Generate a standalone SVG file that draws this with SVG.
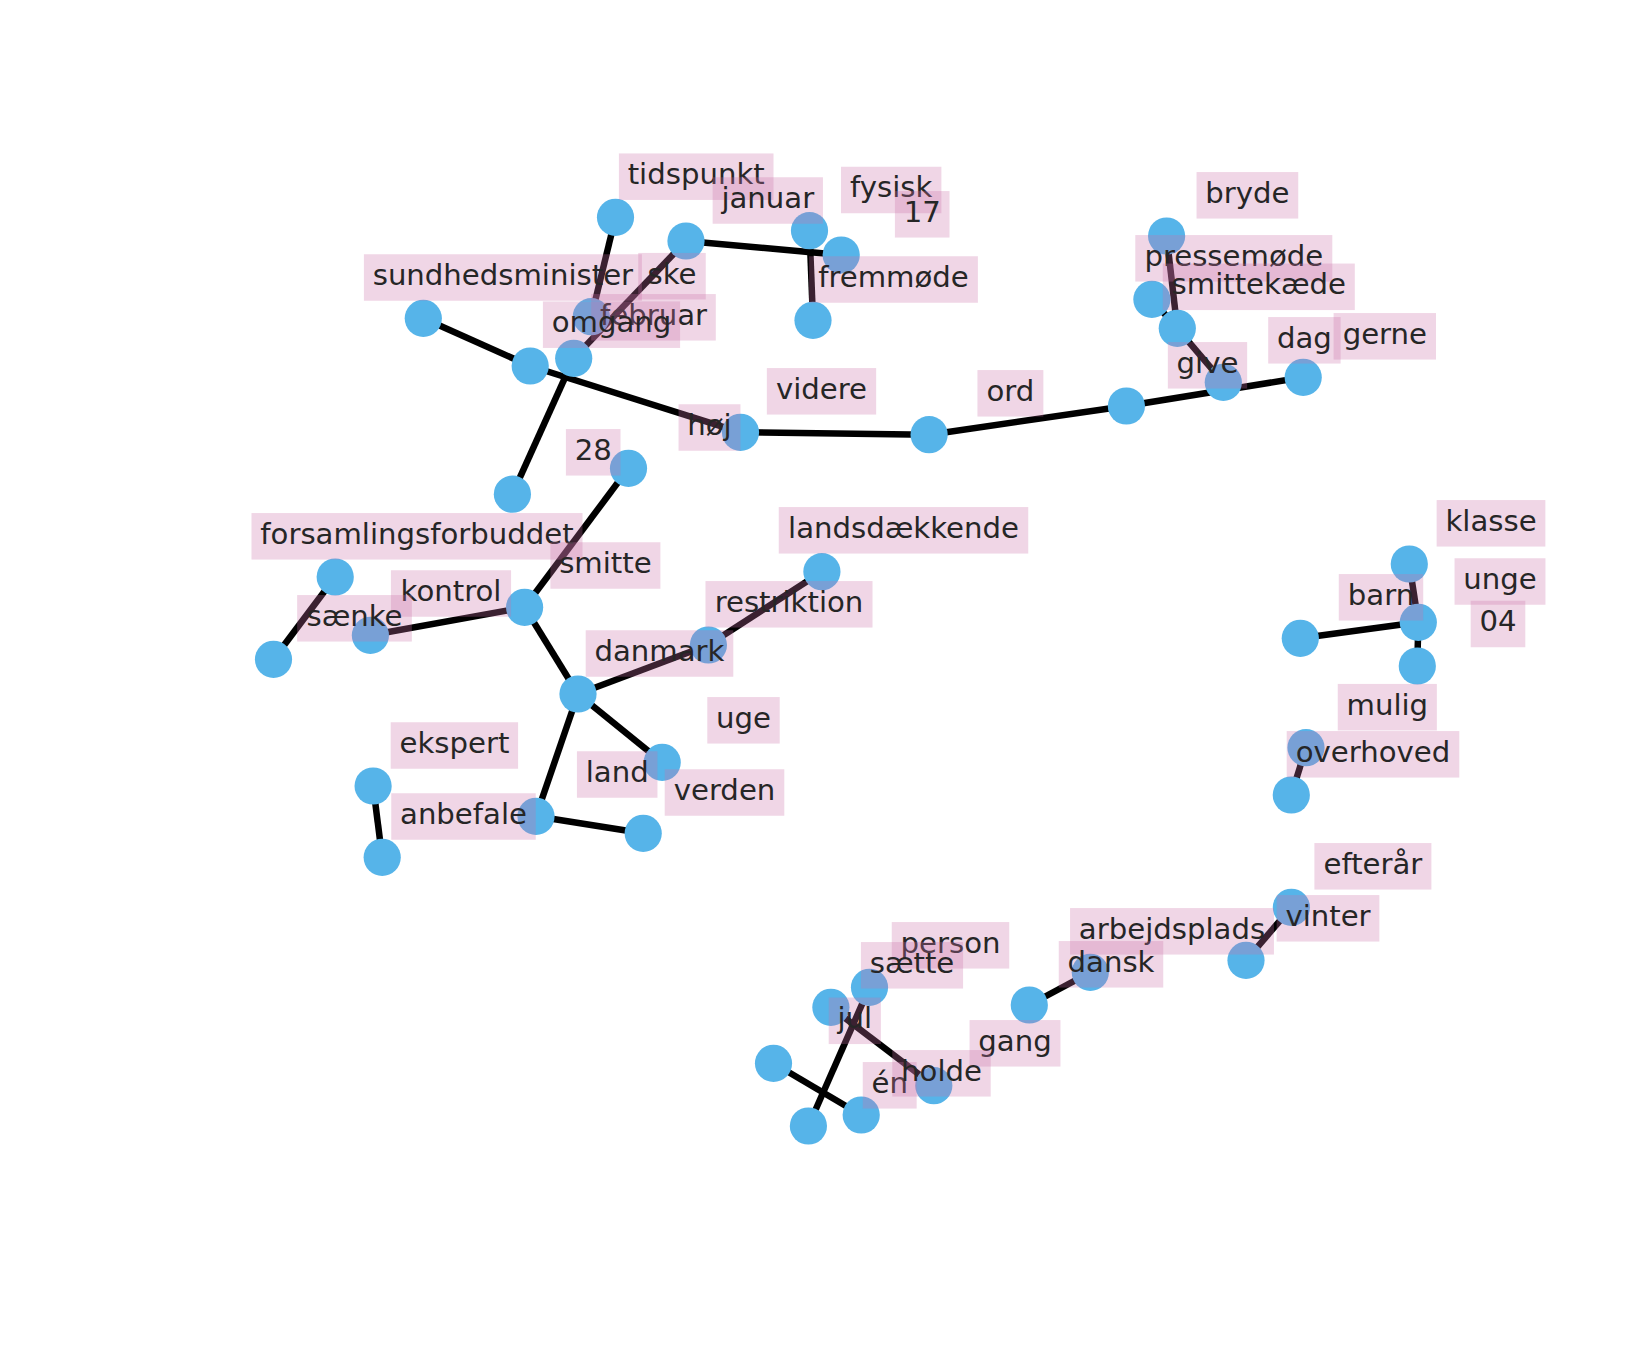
<svg xmlns="http://www.w3.org/2000/svg" width="1650" height="1350" viewBox="0 0 1650 1350">
<style>
  .e line { stroke: #000; stroke-width: 6.5; stroke-linecap: butt; }
  .n circle { fill: #56b4e9; }
  .lb rect { fill: #cb70a8; fill-opacity: 0.29; height: 46.5px; }
  .lb text { font-family: "DejaVu Sans", "Liberation Sans", sans-serif; font-size: 29.17px; fill: #262626; text-anchor: middle; }
</style>
<rect width="1650" height="1350" fill="#fff"/>

<!-- edges -->
<g id="edges" class="e">
  <line x1="615.5" y1="217.3" x2="591.3" y2="316.7"/>
  <line x1="686" y1="241" x2="573.7" y2="358.3"/>
  <line x1="686" y1="241" x2="841.2" y2="255"/>
  <line x1="809.5" y1="230.7" x2="813" y2="320.3"/>
  <line x1="423.3" y1="318.3" x2="530.2" y2="366"/>
  <line x1="530.2" y1="366" x2="740.5" y2="432.3"/>
  <line x1="512.4" y1="494.2" x2="573.7" y2="358.3"/>
  <line x1="740.5" y1="432.3" x2="929.1" y2="434.7"/>
  <line x1="929.1" y1="434.7" x2="1126.4" y2="406"/>
  <line x1="1126.4" y1="406" x2="1303.2" y2="377.3"/>
  <line x1="1223.3" y1="382.3" x2="1177.3" y2="328.3"/>
  <line x1="1177.3" y1="328.3" x2="1166.6" y2="236"/>
  <line x1="1177.3" y1="328.3" x2="1151.9" y2="299.3"/>
  <line x1="628.5" y1="468.3" x2="524.6" y2="607.3"/>
  <line x1="335.2" y1="577" x2="273.5" y2="659.3"/>
  <line x1="370.4" y1="635.3" x2="524.6" y2="607.3"/>
  <line x1="524.6" y1="607.3" x2="578" y2="694"/>
  <line x1="821.9" y1="571.7" x2="708.4" y2="645"/>
  <line x1="708.4" y1="645" x2="578" y2="694"/>
  <line x1="578" y1="694" x2="662.2" y2="762.3"/>
  <line x1="578" y1="694" x2="536" y2="816.3"/>
  <line x1="373.1" y1="786" x2="382.2" y2="857.3"/>
  <line x1="536" y1="816.3" x2="643.2" y2="833.3"/>
  <line x1="1409.3" y1="564" x2="1418.3" y2="622.3"/>
  <line x1="1418.3" y1="622.3" x2="1417.3" y2="666"/>
  <line x1="1418.3" y1="622.3" x2="1300.3" y2="638.3"/>
  <line x1="1306" y1="747.7" x2="1291.3" y2="795"/>
  <line x1="1291.4" y1="907.3" x2="1246" y2="960.3"/>
  <line x1="1090.3" y1="972.3" x2="1029.3" y2="1005"/>
  <line x1="869.5" y1="987.3" x2="808.4" y2="1126"/>
  <line x1="830.9" y1="1007.3" x2="933.8" y2="1085.7"/>
  <line x1="773.5" y1="1063.3" x2="861.2" y2="1115"/>
</g>

<!-- nodes -->
<g id="nodes" class="n">
  <g id="n01"><circle cx="615.5" cy="217.3" r="18.6"/></g>
  <g id="n02"><circle cx="686" cy="241" r="18.6"/></g>
  <g id="n03"><circle cx="809.5" cy="230.7" r="18.6"/></g>
  <g id="n04"><circle cx="841.2" cy="255" r="18.6"/></g>
  <g id="n05"><circle cx="813" cy="320.3" r="18.6"/></g>
  <g id="n06"><circle cx="423.3" cy="318.3" r="18.6"/></g>
  <g id="n07"><circle cx="591.3" cy="316.7" r="18.6"/></g>
  <g id="n08"><circle cx="530.2" cy="366" r="18.6"/></g>
  <g id="n09"><circle cx="573.7" cy="358.3" r="18.6"/></g>
  <g id="n10"><circle cx="512.4" cy="494.2" r="18.6"/></g>
  <g id="n11"><circle cx="740.5" cy="432.3" r="18.6"/></g>
  <g id="n12"><circle cx="929.1" cy="434.7" r="18.6"/></g>
  <g id="n13"><circle cx="1126.4" cy="406" r="18.6"/></g>
  <g id="n14"><circle cx="1303.2" cy="377.3" r="18.6"/></g>
  <g id="n15"><circle cx="1223.3" cy="382.3" r="18.6"/></g>
  <g id="n16"><circle cx="1177.3" cy="328.3" r="18.6"/></g>
  <g id="n17"><circle cx="1151.9" cy="299.3" r="18.6"/></g>
  <g id="n18"><circle cx="1166.6" cy="236" r="18.6"/></g>
  <g id="n19"><circle cx="628.5" cy="468.3" r="18.6"/></g>
  <g id="n20"><circle cx="335.2" cy="577" r="18.6"/></g>
  <g id="n21"><circle cx="273.5" cy="659.3" r="18.6"/></g>
  <g id="n22"><circle cx="370.4" cy="635.3" r="18.6"/></g>
  <g id="n23"><circle cx="524.6" cy="607.3" r="18.6"/></g>
  <g id="n24"><circle cx="821.9" cy="571.7" r="18.6"/></g>
  <g id="n25"><circle cx="708.4" cy="645" r="18.6"/></g>
  <g id="n26"><circle cx="578" cy="694" r="18.6"/></g>
  <g id="n27"><circle cx="662.2" cy="762.3" r="18.6"/></g>
  <g id="n28"><circle cx="373.1" cy="786" r="18.6"/></g>
  <g id="n29"><circle cx="382.2" cy="857.3" r="18.6"/></g>
  <g id="n30"><circle cx="536" cy="816.3" r="18.6"/></g>
  <g id="n31"><circle cx="643.2" cy="833.3" r="18.6"/></g>
  <g id="n32"><circle cx="1409.3" cy="564" r="18.6"/></g>
  <g id="n33"><circle cx="1418.3" cy="622.3" r="18.6"/></g>
  <g id="n34"><circle cx="1417.3" cy="666" r="18.6"/></g>
  <g id="n35"><circle cx="1300.3" cy="638.3" r="18.6"/></g>
  <g id="n36"><circle cx="1306" cy="747.7" r="18.6"/></g>
  <g id="n37"><circle cx="1291.3" cy="795" r="18.6"/></g>
  <g id="n38"><circle cx="1291.4" cy="907.3" r="18.6"/></g>
  <g id="n39"><circle cx="1246" cy="960.3" r="18.6"/></g>
  <g id="n40"><circle cx="1090.3" cy="972.3" r="18.6"/></g>
  <g id="n41"><circle cx="1029.3" cy="1005" r="18.6"/></g>
  <g id="n42"><circle cx="869.5" cy="987.3" r="18.6"/></g>
  <g id="n43"><circle cx="830.9" cy="1007.3" r="18.6"/></g>
  <g id="n44"><circle cx="773.5" cy="1063.3" r="18.6"/></g>
  <g id="n45"><circle cx="808.4" cy="1126" r="18.6"/></g>
  <g id="n46"><circle cx="861.2" cy="1115" r="18.6"/></g>
  <g id="n47"><circle cx="933.8" cy="1085.7" r="18.6"/></g>
</g>

<!-- word labels: translucent box centred on the label point, text baseline 7.3px below centre -->
<g id="labels" class="lb">
  <g id="lab-tidspunkt"><rect x="618.9" y="153.45" width="154.6"/><text x="696.2" y="184">tidspunkt</text></g>
  <g id="lab-januar"><rect x="712.65" y="177.25" width="110.3"/><text x="767.8" y="207.8">januar</text></g>
  <g id="lab-fysisk"><rect x="841" y="166.75" width="100.4"/><text x="891.2" y="197.3">fysisk</text></g>
  <g id="lab-17"><rect x="894.9" y="191.05" width="54.6"/><text x="922.2" y="221.6">17</text></g>
  <g id="lab-sundhedsminister"><rect x="363.9" y="254.25" width="278"/><text x="502.9" y="284.8">sundhedsminister</text></g>
  <g id="lab-ske"><rect x="638.25" y="252.95" width="67.5"/><text x="672" y="283.5">ske</text></g>
  <g id="lab-februar"><rect x="591.2" y="294.05" width="124.6"/><text x="653.5" y="324.6">februar</text></g>
  <g id="lab-omgang"><rect x="542.9" y="301.45" width="137.2"/><text x="611.5" y="332">omgang</text></g>
  <g id="lab-fremmode"><rect x="809.1" y="256.25" width="168.8"/><text x="893.5" y="286.8">fremmøde</text></g>
  <g id="lab-bryde"><rect x="1196.55" y="172.05" width="101.7"/><text x="1247.4" y="202.6">bryde</text></g>
  <g id="lab-pressemode"><rect x="1135.3" y="235.05" width="197"/><text x="1233.8" y="265.6">pressemøde</text></g>
  <g id="lab-smittekaede"><rect x="1162.8" y="263.55" width="192"/><text x="1258.8" y="294.1">smittekæde</text></g>
  <g id="lab-dag"><rect x="1268.2" y="317.05" width="72.4"/><text x="1304.4" y="347.6">dag</text></g>
  <g id="lab-gerne"><rect x="1333.6" y="313.05" width="102.4"/><text x="1384.8" y="343.6">gerne</text></g>
  <g id="lab-give"><rect x="1167.85" y="342.05" width="79.3"/><text x="1207.5" y="372.6">give</text></g>
  <g id="lab-videre"><rect x="766.85" y="368.05" width="109.3"/><text x="821.5" y="398.6">videre</text></g>
  <g id="lab-ord"><rect x="977.45" y="370.05" width="65.9"/><text x="1010.4" y="400.6">ord</text></g>
  <g id="lab-hoj"><rect x="678.55" y="404.25" width="61.9"/><text x="709.5" y="434.8">høj</text></g>
  <g id="lab-28"><rect x="565.9" y="429.05" width="54.6"/><text x="593.2" y="459.6">28</text></g>
  <g id="lab-forsamlingsforbuddet"><rect x="251.5" y="513.05" width="331"/><text x="417" y="543.6">forsamlingsforbuddet</text></g>
  <g id="lab-smitte"><rect x="550.4" y="542.25" width="110"/><text x="605.4" y="572.8">smitte</text></g>
  <g id="lab-kontrol"><rect x="390.95" y="570.25" width="120.1"/><text x="451" y="600.8">kontrol</text></g>
  <g id="lab-saenke"><rect x="297.15" y="595.05" width="114.7"/><text x="354.5" y="625.6">sænke</text></g>
  <g id="lab-landsdaekkende"><rect x="778.75" y="507.05" width="249.5"/><text x="903.5" y="537.6">landsdækkende</text></g>
  <g id="lab-restriktion"><rect x="705.5" y="581.05" width="167"/><text x="789" y="611.6">restriktion</text></g>
  <g id="lab-danmark"><rect x="585.7" y="630.25" width="147.6"/><text x="659.5" y="660.8">danmark</text></g>
  <g id="lab-uge"><rect x="707.3" y="697.05" width="72.4"/><text x="743.5" y="727.6">uge</text></g>
  <g id="lab-ekspert"><rect x="390.7" y="722.25" width="127.4"/><text x="454.4" y="752.8">ekspert</text></g>
  <g id="lab-land"><rect x="576.95" y="751.25" width="80.5"/><text x="617.2" y="781.8">land</text></g>
  <g id="lab-verden"><rect x="664.7" y="769.25" width="119.6"/><text x="724.5" y="799.8">verden</text></g>
  <g id="lab-anbefale"><rect x="391.25" y="793.25" width="144.5"/><text x="463.5" y="823.8">anbefale</text></g>
  <g id="lab-klasse"><rect x="1436.65" y="500.05" width="108.7"/><text x="1491" y="530.6">klasse</text></g>
  <g id="lab-unge"><rect x="1454.55" y="558.25" width="90.9"/><text x="1500" y="588.8">unge</text></g>
  <g id="lab-barn"><rect x="1338.8" y="574.05" width="84.4"/><text x="1381" y="604.6">barn</text></g>
  <g id="lab-04"><rect x="1470.7" y="600.75" width="54.6"/><text x="1498" y="631.3">04</text></g>
  <g id="lab-mulig"><rect x="1337.75" y="683.95" width="99.1"/><text x="1387.3" y="714.5">mulig</text></g>
  <g id="lab-overhoved"><rect x="1286.7" y="731.05" width="172.6"/><text x="1373" y="761.6">overhoved</text></g>
  <g id="lab-efteraar"><rect x="1314.4" y="843.05" width="117"/><text x="1372.9" y="873.6">efterår</text></g>
  <g id="lab-vinter"><rect x="1276.65" y="895.05" width="102.7"/><text x="1328" y="925.6">vinter</text></g>
  <g id="lab-arbejdsplads"><rect x="1070.05" y="908.05" width="203.9"/><text x="1172" y="938.6">arbejdsplads</text></g>
  <g id="lab-dansk"><rect x="1058.75" y="941.05" width="104.5"/><text x="1111" y="971.6">dansk</text></g>
  <g id="lab-person"><rect x="891.75" y="922.05" width="117.5"/><text x="950.5" y="952.6">person</text></g>
  <g id="lab-saette"><rect x="860.95" y="942.05" width="102.1"/><text x="912" y="972.6">sætte</text></g>
  <g id="lab-jul"><rect x="828.7" y="997.55" width="52.2"/><text x="854.8" y="1028.1">jul</text></g>
  <g id="lab-gang"><rect x="969.55" y="1020.05" width="90.9"/><text x="1015" y="1050.6">gang</text></g>
  <g id="lab-en"><rect x="862.75" y="1062.05" width="53.9"/><text x="889.7" y="1092.6">én</text></g>
  <g id="lab-holde"><rect x="892.3" y="1050.05" width="98.4"/><text x="941.5" y="1080.6">holde</text></g>
</g>
</svg>
